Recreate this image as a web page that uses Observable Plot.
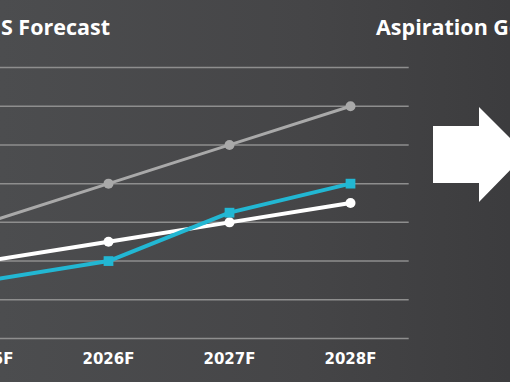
<!DOCTYPE html>
<html>
<head>
<meta charset="utf-8">
<script src="https://cdn.jsdelivr.net/npm/d3@7"></script>
<script src="https://cdn.jsdelivr.net/npm/@observablehq/plot@0.6"></script>
<style>
  html, body { margin: 0; padding: 0; }
  body { width: 510px; height: 382px; overflow: hidden; font-family: "Open Sans", sans-serif; }
  #wrap { position: relative; width: 510px; height: 382px; overflow: hidden;
          background: linear-gradient(90deg, #4c4d4f 0%, #454547 60%, #3c3c3e 100%); }
  .title { position: absolute; color: #fff; font-family: "Open Sans", sans-serif; font-weight: 700; font-size: 21.5px; white-space: nowrap; line-height: 1; }
  #t1 { right: 400px; top: 16px; }
  #t2 { left: 376px; top: 16px; }
  #chart { position: absolute; left: -80px; top: 0; }
  #arrow { position: absolute; left: 0; top: 0; }
</style>
</head>
<body>
<div id="wrap">
  <div class="title" id="t1">S Forecast</div>
  <div class="title" id="t2">Aspiration Goals</div>
  <div id="chart"></div>
  <svg id="arrow" width="510" height="382"><polygon points="433,126 479,126 479,107 526,154 479,202 479,183 433,183" fill="#ffffff"/></svg>
</div>
<script>
const years = ["2025F", "2026F", "2027F", "2028F"];
const grayValues = [3.0, 4.0, 5.0, 6.0];
const whiteValues = [2.0, 2.5, 3.0, 3.5];
const cyanValues = [1.5, 2.0, 3.25, 4.0];
const yTicks = [0, 1, 2, 3, 4, 5, 6, 7];

const toRows = (vals) => years.map((year, i) => ({year, value: vals[i]}));
const gray = toRows(grayValues), white = toRows(whiteValues), cyan = toRows(cyanValues);

const chart = Plot.plot({
  width: 490,
  height: 382,
  marginLeft: 0,
  marginRight: 1.3,
  marginTop: 0,
  marginBottom: 44,
  style: {background: "transparent", overflow: "visible"},
  x: {type: "point", domain: years, range: [66.7, 430.7], padding: 0},
  y: {domain: [0, 7], range: [338, 67], axis: null},
  marks: [
    Plot.gridY(yTicks, {stroke: "#8e8e8e", strokeOpacity: 1, strokeWidth: 1.5}),
    Plot.axisX({tickSize: 0, tickPadding: 15, fontSize: 15, fontWeight: 700, fill: "#ffffff", fontFamily: "DejaVu Sans, sans-serif", label: null}),
    Plot.line(gray, {x: "year", y: "value", stroke: "#a9a9a9", strokeWidth: 3}),
    Plot.dot(gray, {x: "year", y: "value", r: 5, fill: "#a9a9a9"}),
    Plot.line(white, {x: "year", y: "value", stroke: "#ffffff", strokeWidth: 4}),
    Plot.dot(white, {x: "year", y: "value", r: 5, fill: "#ffffff"}),
    Plot.line(cyan, {x: "year", y: "value", stroke: "#22b7d3", strokeWidth: 4}),
    Plot.dot(cyan, {x: "year", y: "value", symbol: "square", r: 5.5, fill: "#22b7d3"})
  ]
});
document.getElementById("chart").appendChild(chart);
</script>
</body>
</html>
